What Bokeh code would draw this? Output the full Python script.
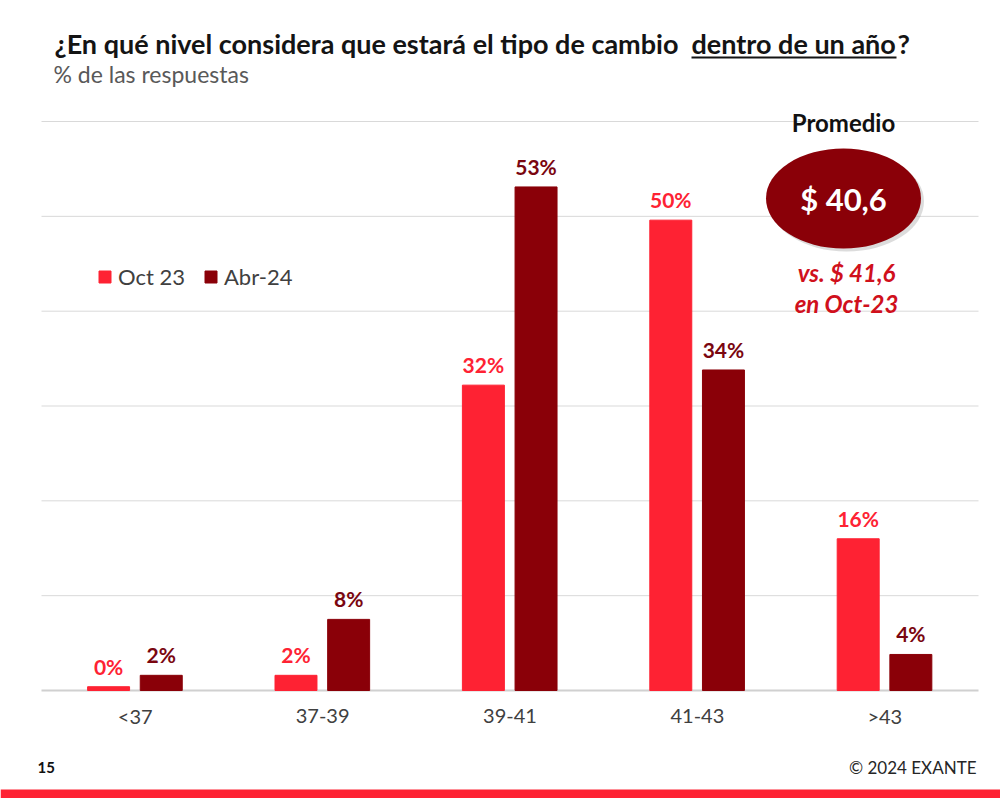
from bokeh.plotting import figure
from bokeh.models import ColumnDataSource, Range1d, Label, Legend, LegendItem, BoxAnnotation
from bokeh.core.properties import value
from bokeh.embed import file_html
from bokeh.resources import INLINE

# datos
categories = ["<37", "37-39", "39-41", "41-43", ">43"]
oct_23 = [0.4, 1.6, 32.2, 49.6, 16.0]
abr_24 = [1.6, 7.5, 53.1, 33.8, 3.8]
series_names = ["Oct 23", "Abr-24"]
grid_values = [10, 20, 30, 40, 50, 60]
promedio = "$ 40,6"
promedio_prev = ["vs. $ 41,6", "en Oct-23"]

title_parts = ["¿En qué nivel considera que estará el tipo de cambio ", "dentro de un año", "?"]
subtitle = "% de las respuestas"
page_number = "15"
copyright_text = "© 2024 EXANTE"

OCT_COLOR = "#fe2233"
ABR_COLOR = "#8a0008"
FONT = "Lato"
W, H = 1000, 798


# posiciones de pagina (px) -> coordenadas de datos
def ux(px):
    return (px - 41) / 187.4


def vy(py):
    return (690 - py) / 9.483


pos = [i + 0.5 for i in range(len(categories))]
src = ColumnDataSource(dict(
    cat=categories,
    x_oct=[x - 0.142 for x in pos],
    x_abr=[x + 0.139 for x in pos],
    x_cat=pos,
    y0=[0] * len(categories),
    oct=oct_23,
    abr=abr_24,
    oct_lbl=[f"{v:.0f}%" for v in oct_23],
    abr_lbl=[f"{v:.0f}%" for v in abr_24],
))

# el marco ocupa toda la pagina, para que los textos no se recorten
p = figure(
    x_range=Range1d(ux(0), ux(W)),
    y_range=Range1d(vy(H), vy(0)),
    width=W,
    height=H,
    output_backend="svg",
    toolbar_location=None,
    x_axis_location=None,
    y_axis_location=None,
    min_border=0,
)
p.outline_line_color = None
p.grid.visible = False

# lineas de la grilla
p.segment(x0=0, x1=len(categories), y0=grid_values, y1=grid_values,
          line_color="#d9d9d9", line_width=1)
p.segment(x0=0, x1=len(categories), y0=0, y1=0, line_color="#d0d0d0", line_width=2)

# barras
r_oct = p.vbar(x="x_oct", top="oct", width=0.224, source=src,
               fill_color=OCT_COLOR, line_color=OCT_COLOR)
r_abr = p.vbar(x="x_abr", top="abr", width=0.224, source=src,
               fill_color=ABR_COLOR, line_color=ABR_COLOR)

p.text(x="x_oct", y="oct", text="oct_lbl", source=src,
       text_align="center", text_baseline="bottom", y_offset=-8,
       text_font=value(FONT), text_font_style="bold", text_font_size="21px",
       text_color=OCT_COLOR)
p.text(x="x_abr", y="abr", text="abr_lbl", source=src,
       text_align="center", text_baseline="bottom", y_offset=-8,
       text_font=value(FONT), text_font_style="bold", text_font_size="21px",
       text_color="#7a0610")

# etiquetas del eje x
p.text(x="x_cat", y="y0", text="cat", source=src,
       text_align="center", text_baseline="middle", y_offset=25,
       text_font=value(FONT), text_font_size="20px", text_color="#404040")

# leyenda
legend = Legend(
    items=[LegendItem(label=series_names[0], renderers=[r_oct]),
           LegendItem(label=series_names[1], renderers=[r_abr])],
    orientation="horizontal",
    location=(97, H - 290),
    glyph_width=15, glyph_height=15,
    label_text_font=FONT, label_text_font_size="22px", label_text_color="#404040",
    label_standoff=6, spacing=18, padding=0, margin=0,
    background_fill_alpha=0, border_line_color=None,
)
p.add_layout(legend, "center")

# promedio
p.ellipse(x=ux(846), y=vy(201), width=155, height=100, width_units="screen",
          height_units="screen", fill_color="#9a9a9a", fill_alpha=0.35, line_color=None)
p.ellipse(x=ux(843), y=vy(198), width=155, height=100, width_units="screen",
          height_units="screen", fill_color="#8a0008", line_color=None)
p.add_layout(Label(x=ux(843), y=vy(122), text="Promedio", text_align="center",
                   text_baseline="middle", text_font=FONT, text_font_style="bold",
                   text_font_size="24px", text_color="#111111"))
p.add_layout(Label(x=ux(843), y=vy(198), text=promedio, text_align="center",
                   text_baseline="middle", text_font=FONT, text_font_style="bold",
                   text_font_size="31px", text_color="white"))
p.add_layout(Label(x=ux(846), y=vy(272), text=promedio_prev[0], text_align="center",
                   text_baseline="middle", text_font=FONT, text_font_style="bold italic",
                   text_font_size="24px", text_color="#d0101c"))
p.add_layout(Label(x=ux(846), y=vy(303), text=promedio_prev[1], text_align="center",
                   text_baseline="middle", text_font=FONT, text_font_style="bold italic",
                   text_font_size="24px", text_color="#d0101c"))

# titulo y subtitulo
for part, px in zip(title_parts, [54, 691, 897]):
    p.add_layout(Label(x=ux(px), y=vy(43), text=part, text_align="left",
                       text_baseline="middle", text_font=FONT, text_font_style="bold",
                       text_font_size="27px", text_color="#141414"))
p.add_layout(BoxAnnotation(left=ux(691), right=ux(896), top=vy(56), bottom=vy(58),
                           fill_color="#141414", fill_alpha=1, line_color=None))
p.add_layout(Label(x=ux(53), y=vy(73), text=subtitle, text_align="left",
                   text_baseline="middle", text_font=FONT, text_font_size="23px",
                   text_color="#595959"))

# pie de pagina
p.add_layout(Label(x=ux(37), y=vy(767), text=page_number, text_align="left",
                   text_baseline="middle", text_font=FONT, text_font_style="bold",
                   text_font_size="15px", text_color="#111111"))
p.add_layout(Label(x=ux(976), y=vy(767), text=copyright_text, text_align="right",
                   text_baseline="middle", text_font=FONT, text_font_size="17px",
                   text_color="#262626"))
p.add_layout(BoxAnnotation(top=vy(789), fill_color=OCT_COLOR, fill_alpha=1, line_color=None))

open("out.html", "w").write(file_html(p, INLINE))
